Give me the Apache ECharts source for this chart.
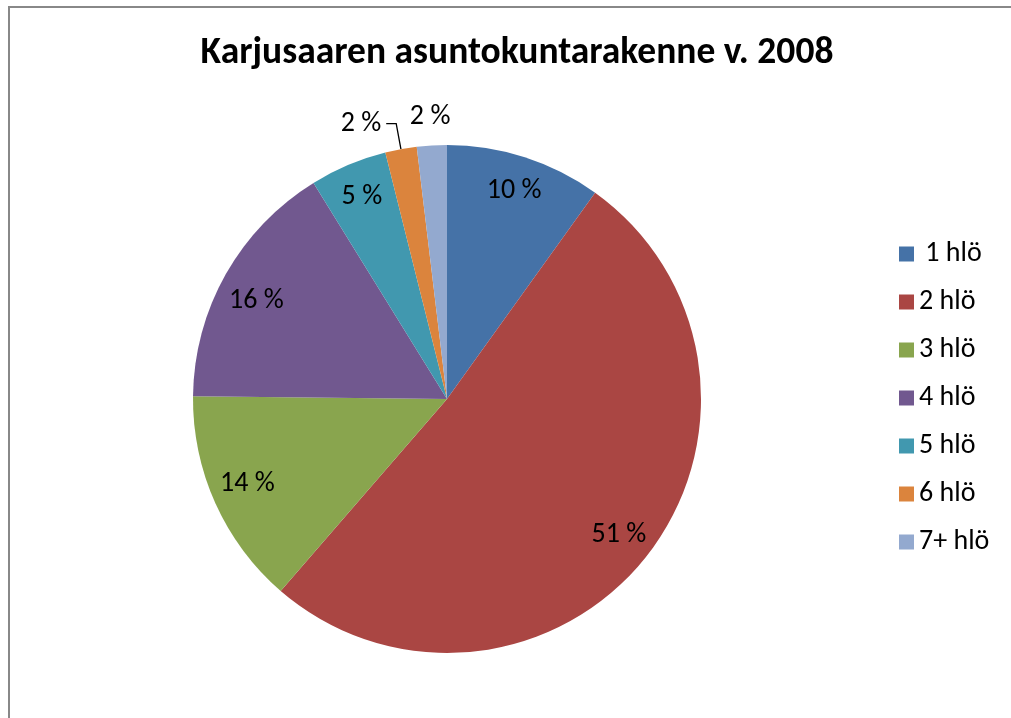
<!DOCTYPE html>
<html>
<head>
<meta charset="utf-8">
<script src="https://cdn.jsdelivr.net/npm/echarts@6/dist/echarts.min.js"></script>
<style>
  html, body { margin: 0; padding: 0; background: #fff; }
  #chart { width: 1011px; height: 718px; }
</style>
</head>
<body>
<div id="chart"></div>
<script>
// data (share of households, %)
const categories = [' 1 hlö', '2 hlö', '3 hlö', '4 hlö', '5 hlö', '6 hlö', '7+ hlö']
const shares = [9.9, 51.4, 13.8, 16.0, 4.9, 2.0, 1.9]
const colors = ['#4572A7', '#AA4643', '#89A54E', '#71588F', '#4198AF', '#DB843D', '#93A9CF']

// which slices get their label inside, outside with a line, or just above
const insideLabels = [0, 1, 2, 3, 4]
const lineLabels = [5]
const topLabels = [6]

const font = 'Carlito, Lato, sans-serif'
const R = 254
const center = [447, 399]

const chart = echarts.init(document.getElementById('chart'))

const pctLabel = p => Math.round(p.percent) + ' %'

function labelData(showList) {
  return categories.map((name, i) => ({
    name,
    value: shares[i],
    label: {
      show: showList.indexOf(i) >= 0,
      // Excel nudges the 4 hlö label down a bit
      offset: i === 3 ? [0, 10] : i === 2 ? [0, -5] : [0, 0]
    }
  }))
}

const option = {
  color: colors,
  animation: false,
  title: {
    text: 'Karjusaaren asuntokuntarakenne v. 2008',
    left: 512,
    textAlign: 'center',
    top: 30,
    textStyle: {
      fontFamily: font,
      fontWeight: 'bold',
      fontSize: 37.5,
      color: '#000'
    }
  },
  legend: {
    orient: 'vertical',
    left: 899,
    top: 240,
    padding: 0,
    icon: 'rect',
    itemWidth: 15,
    itemHeight: 15,
    itemGap: 20,
    itemTextGap: 5,
    data: categories,
    textStyle: {
      fontFamily: font,
      fontSize: 28,
      lineHeight: 26,
      color: '#000'
    }
  },
  graphic: [
    {
      type: 'rect',
      shape: { x: 9, y: 7, width: 2000, height: 2000 },
      style: { fill: 'none', stroke: '#888', lineWidth: 2 },
      silent: true
    }
  ],
  series: [
    {
      // the pie itself, with the one outside label that has a leader line
      type: 'pie',
      center,
      radius: R,
      startAngle: 90,
      clockwise: true,
      itemStyle: { borderWidth: 0 },
      emphasis: { disabled: true },
      label: {
        position: 'outside',
        formatter: pctLabel,
        fontFamily: font,
        fontSize: 28,
        color: '#000'
      },
      labelLine: {
        show: true,
        length: 26,
        length2: 10,
        lineStyle: { color: '#000', width: 1.3 }
      },
      data: categories.map((name, i) => ({
        name,
        value: shares[i],
        label: { show: lineLabels.indexOf(i) >= 0 },
        labelLine: { show: lineLabels.indexOf(i) >= 0 }
      }))
    },
    {
      // transparent ring used only to put the inside labels near the rim
      type: 'pie',
      center,
      radius: [R * 0.7, R],
      startAngle: 90,
      silent: true,
      legendHoverLink: false,
      itemStyle: { color: 'rgba(0,0,0,0)' },
      emphasis: { disabled: true },
      label: {
        position: 'inside',
        formatter: pctLabel,
        fontFamily: font,
        fontSize: 28,
        color: '#000'
      },
      labelLine: { show: false },
      data: labelData(insideLabels)
    },
    {
      // ring just outside the pie for the small label sitting above its slice
      type: 'pie',
      center,
      radius: [R, R * 1.2],
      startAngle: 90,
      silent: true,
      legendHoverLink: false,
      itemStyle: { color: 'rgba(0,0,0,0)' },
      emphasis: { disabled: true },
      label: {
        position: 'inside',
        formatter: pctLabel,
        fontFamily: font,
        fontSize: 28,
        color: '#000'
      },
      labelLine: { show: false },
      data: labelData(topLabels)
    }
  ]
}

chart.setOption(option)
</script>
</body>
</html>
